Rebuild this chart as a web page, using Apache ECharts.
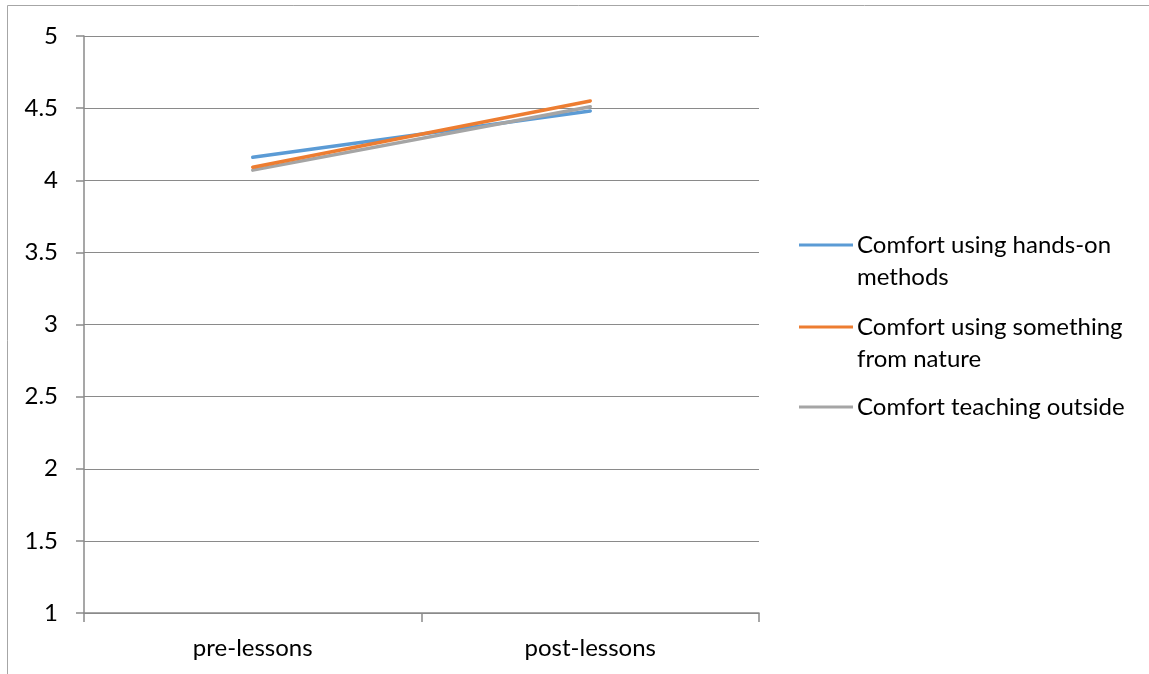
<!DOCTYPE html>
<html>
<head>
<meta charset="utf-8">
<script src="https://cdn.jsdelivr.net/npm/echarts@6/dist/echarts.min.js"></script>
<style>
  html, body { margin: 0; padding: 0; background: #ffffff; }
  #chart { width: 1149px; height: 674px; }
</style>
</head>
<body>
<div id="chart"></div>
<script>
// Survey stages on the x axis
const categories = ['pre-lessons', 'post-lessons'];

// Mean comfort ratings per stage
const handsOn = [4.16, 4.48];
const nature = [4.09, 4.55];
const outside = [4.07, 4.51];

const seriesNames = [
  'Comfort using hands-on methods',
  'Comfort using something from nature',
  'Comfort teaching outside'
];
// Wrapped legend text (leading blank line keeps the swatch level with the first line)
const legendLabels = [
  '\nComfort using hands-on\nmethods',
  '\nComfort using something\nfrom nature',
  'Comfort teaching outside'
];
const colors = ['#5B9BD5', '#ED7D31', '#A5A5A5'];
const yTicks = { min: 1, max: 5, interval: 0.5 };

const FONT = 'Lato';
const LINE_H = 32;
const axisGray = '#8a8a8a';

const chart = echarts.init(document.getElementById('chart'), null, { renderer: 'canvas' });

const values = [handsOn, nature, outside];
// swatch centre y for each legend entry
const swatchY = [245, 327, 407];

const legends = seriesNames.map((name, i) => {
  const lines = legendLabels[i].split('\n').length;
  return {
    data: [name],
    orient: 'vertical',
    left: 799,
    top: swatchY[i] - (lines * LINE_H) / 2,
    itemWidth: 54,
    itemHeight: 3,
    itemGap: 0,
    padding: 0,
    icon: 'rect',
    selectedMode: false,
    formatter: () => legendLabels[i],
    textStyle: {
      fontFamily: FONT,
      fontSize: 24,
      color: '#000000',
      lineHeight: LINE_H,
      padding: [0, 0, 0, -1]
    }
  };
});

chart.setOption({
  animation: false,
  backgroundColor: '#ffffff',
  textStyle: { fontFamily: FONT },
  graphic: [{
    type: 'rect',
    shape: { x: 7.5, y: 5.5, width: 1400, height: 1000 },
    style: { fill: 'none', stroke: '#a6a6a6', lineWidth: 1 },
    silent: true
  }],
  grid: { left: 84, right: 390, top: 36, bottom: 61 },
  legend: legends,
  xAxis: {
    type: 'category',
    data: categories,
    boundaryGap: true,
    axisLine: { lineStyle: { color: axisGray, width: 1.5 } },
    axisTick: { show: true, length: 9, inside: false, lineStyle: { color: axisGray, width: 1.5 } },
    axisLabel: { color: '#000000', fontSize: 24, fontFamily: FONT, margin: 23 },
    splitLine: { show: false }
  },
  yAxis: {
    type: 'value',
    min: yTicks.min,
    max: yTicks.max,
    interval: yTicks.interval,
    axisLine: { show: true, lineStyle: { color: axisGray, width: 1.5 } },
    axisTick: { show: true, length: 8, lineStyle: { color: axisGray, width: 1.5 } },
    axisLabel: { color: '#000000', fontSize: 24, fontFamily: FONT, margin: 26 },
    splitLine: { show: true, lineStyle: { color: axisGray, width: 1.2 } }
  },
  series: seriesNames.map((name, i) => ({
    name: name,
    type: 'line',
    data: values[i],
    symbol: 'none',
    color: colors[i],
    lineStyle: { color: colors[i], width: 3.5, cap: 'round' },
    z: 3 + (i === 1 ? 1 : 0)
  }))
});
</script>
</body>
</html>
